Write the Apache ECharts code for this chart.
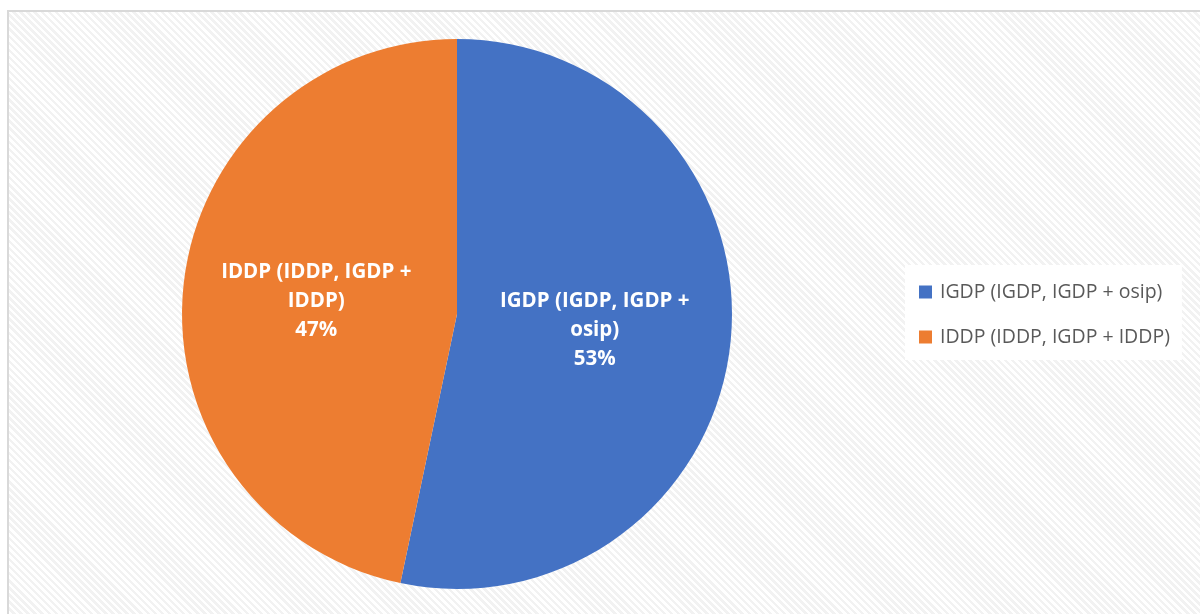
<!DOCTYPE html>
<html>
<head>
<meta charset="utf-8">
<script src="https://cdn.jsdelivr.net/npm/echarts@6/dist/echarts.min.js"></script>
<style>
html,body{margin:0;padding:0;background:#fff;overflow:hidden;}
#frame{position:absolute;left:7px;top:10px;width:1210px;height:620px;border:2px solid #d9d9d9;box-sizing:border-box;
background:repeating-linear-gradient(45deg,#ffffff 0px,#ffffff 2.5px,#f2f2f2 2.5px,#f2f2f2 5px);}
#chart{position:absolute;left:0;top:0;width:1200px;height:614px;}
</style>
</head>
<body>
<div id="frame"></div>
<div id="chart"></div>
<script>
const categories = ['IGDP (IGDP, IGDP + osip)', 'IDDP (IDDP, IGDP + IDDP)'];
const values = [53.3, 46.7];
const colors = ['#4472c4', '#ed7d31'];

const chart = echarts.init(document.getElementById('chart'), null, {renderer: 'canvas'});
const fontFam = '"Open Sans", "Liberation Sans", sans-serif';
chart.setOption({
  backgroundColor: 'transparent',
  animation: false,
  legend: {
    orient: 'vertical',
    left: 905,
    top: 265,
    backgroundColor: '#ffffff',
    padding: [16, 12, 12, 14],
    icon: 'rect',
    itemWidth: 13,
    itemHeight: 13,
    itemGap: 23,
    data: categories,
    textStyle: {fontFamily: fontFam, fontSize: 19.5, color: '#595959', lineHeight: 22, padding: [0, 0, 0, 3]}
  },
  series: [{
    type: 'pie',
    center: [457, 314],
    radius: [0, 275],
    startAngle: 90,
    clockwise: true,
    silent: true,
    label: {
      show: true,
      position: 'inside',
      color: '#ffffff',
      fontFamily: fontFam,
      fontWeight: 'bold',
      fontSize: 20.5,
      lineHeight: 29,
      align: 'center',
      formatter: p => p.name.replace('+ ', '+\n') + '\n' + Math.round(p.percent) + '%'
    },
    labelLine: {show: false},
    itemStyle: {borderWidth: 0},
    data: categories.map((c, i) => ({
      name: c,
      value: values[i],
      itemStyle: {color: colors[i]},
      label: i === 1 ? {offset: [-1, 2]} : {offset: [-2, 2]}
    }))
  }]
});
</script>
</body>
</html>
